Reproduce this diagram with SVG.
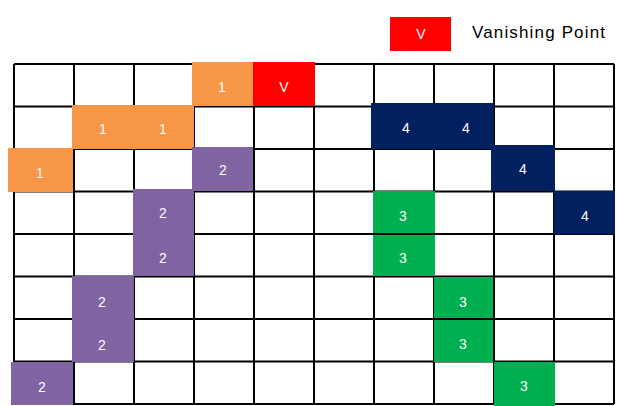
<svg xmlns="http://www.w3.org/2000/svg" width="617" height="406" viewBox="0 0 617 406">
<style>
.g{stroke:#000;stroke-width:2;fill:none}
.o{fill:#F79646}.r{fill:#FF0000}.p{fill:#8064A2}.n{fill:#002060}.gr{fill:#00B050}
.t{font-family:"Liberation Sans",Arial,sans-serif;font-size:14px;fill:#fff;text-anchor:middle}
.lg{font-family:"Liberation Sans",Arial,sans-serif;font-size:17px;fill:#000}
</style>
<rect width="617" height="406" fill="#fff"/>
<g id="legend">
<rect class="r" x="390" y="17" width="61" height="34"/>
<text class="t" x="421" y="39">V</text>
<text class="lg" x="472" y="38" textLength="133">Vanishing Point</text>
</g>
<g id="grid" class="g">
<path d="M14 64V404M74 64V404M134 64V404M194 64V404M254 64V404M314 64V404M374 64V404M434 64V404M494 64V404M554 64V404M614 64V404"/>
<path d="M14 64H614M14 106.5H614M14 149H614M14 191.5H614M14 234H614M14 276.5H614M14 319H614M14 361.5H614M14 404H614"/>
</g>
<g id="cells">
<g id="o1"><rect class="o" x="192" y="62" width="61" height="44"/><text class="t" x="222" y="92">1</text></g>
<g id="vp"><rect class="r" x="253" y="62" width="62" height="44"/><text class="t" x="284" y="92">V</text></g>
<g id="o2"><rect class="o" x="72" y="105" width="122" height="44"/><text class="t" x="103" y="134">1</text><text class="t" x="163" y="134">1</text></g>
<g id="o3"><rect class="o" x="8" y="148" width="65" height="44"/><text class="t" x="40" y="178">1</text></g>
<g id="p1"><rect class="p" x="192" y="147" width="61" height="44"/><text class="t" x="223" y="175">2</text></g>
<g id="p2"><rect class="p" x="133" y="189" width="61" height="87"/><text class="t" x="163" y="218">2</text><text class="t" x="163" y="263">2</text></g>
<g id="p3"><rect class="p" x="72" y="276" width="62" height="86"/><text class="t" x="102" y="307">2</text><text class="t" x="102" y="350">2</text></g>
<g id="p4"><rect class="p" x="11" y="362" width="62" height="43"/><text class="t" x="42" y="392">2</text></g>
<g id="n1"><rect class="n" x="371" y="103" width="123" height="46"/><text class="t" x="406" y="133">4</text><text class="t" x="466" y="133">4</text></g>
<g id="n2"><rect class="n" x="491" y="145" width="64" height="46"/><text class="t" x="523" y="174">4</text></g>
<g id="n3"><rect class="n" x="554" y="191" width="61" height="43"/><text class="t" x="585" y="221">4</text></g>
<g id="g1"><rect class="gr" x="373" y="191" width="62" height="42"/><text class="t" x="403" y="221">3</text></g>
<g id="g2"><rect class="gr" x="373" y="235" width="62" height="41"/><text class="t" x="403" y="263">3</text></g>
<g id="g3"><rect class="gr" x="434" y="277" width="59" height="41"/><text class="t" x="463" y="307">3</text></g>
<g id="g4"><rect class="gr" x="434" y="320" width="59" height="42"/><text class="t" x="463" y="349">3</text></g>
<g id="g5"><rect class="gr" x="494" y="362" width="61" height="44"/><text class="t" x="524" y="391">3</text></g>
</g>
</svg>
